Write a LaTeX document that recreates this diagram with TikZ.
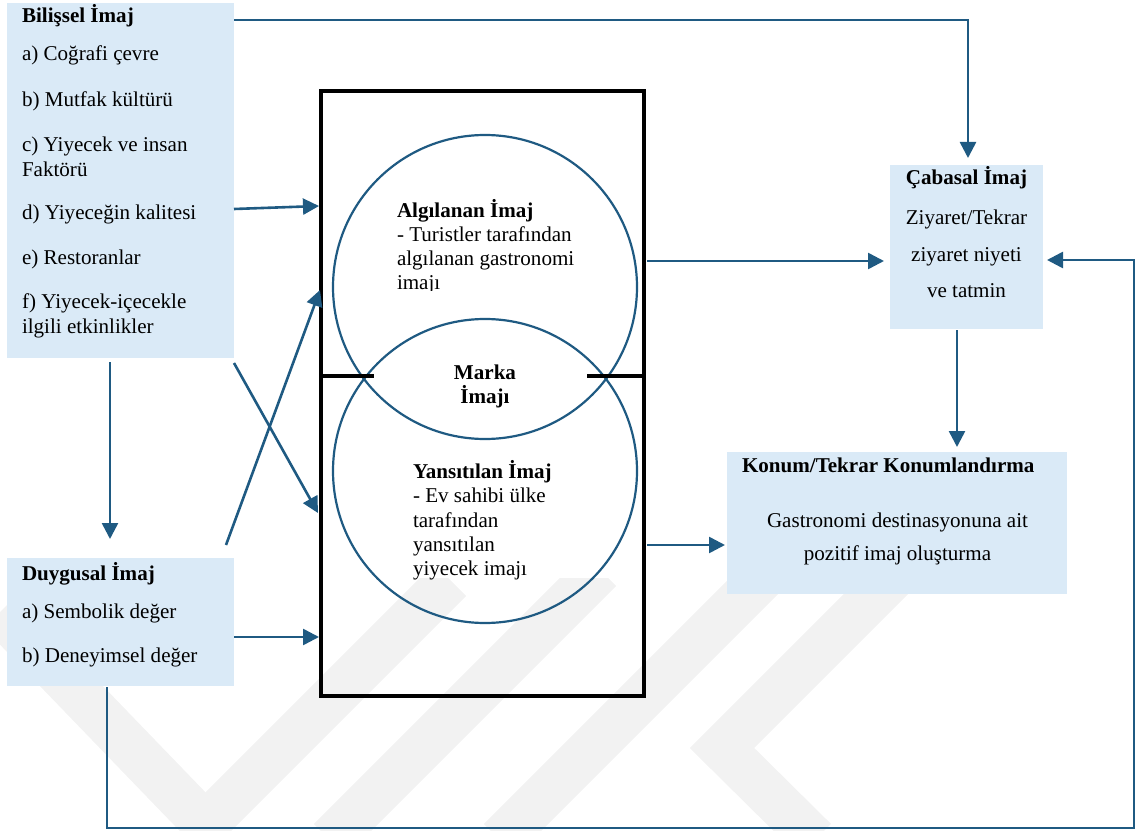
\documentclass[tikz,border=0pt]{standalone}
\usepackage{fontspec}
\setmainfont{Liberation Serif}
\usetikzlibrary{arrows.meta}
\definecolor{boxfill}{HTML}{DAEAF7}
\definecolor{flow}{HTML}{1F5A82}
\definecolor{wmark}{HTML}{F2F2F2}

\begin{document}
\begin{tikzpicture}[x=0.75pt,y=-0.75pt,
  every node/.style={font=\fontsize{15.8}{19}\selectfont, inner sep=0pt, outer sep=0pt},
  panel/.style={fill=boxfill, anchor=north west},
  txt/.style={anchor=base west},
  ctxt/.style={anchor=base},
  hd/.style={font=\fontsize{15.8}{19}\selectfont\bfseries},
  link/.style={draw=flow, line width=1.95pt, -{Triangle[length=12pt,width=12pt]}},
  ring/.style={draw=flow, line width=1.65pt, circle, minimum size=228pt},
  band/.style={draw=wmark, line width=34pt}]
\useasboundingbox (0,0) rectangle (1136,831);

% faint background emblem
\begin{scope}
  \clip (0,578) rectangle (1136,831);
  \draw[band] (0,612) -- (220,840);
  \draw[band] (190,840) -- (450,580);
  \draw[band] (330,840) -- (600,570);
  \draw[band] (500,840) -- (770,570);
  \draw[band] (895,575) -- (722,748) -- (815,840);
\end{scope}

% coloured panels
\node[panel, minimum width=170.25pt, minimum height=266.25pt] (bil) at (7,3) {};
\node[panel, minimum width=170.25pt, minimum height=96pt] (duy) at (7,558) {};
\node[panel, minimum width=114.75pt, minimum height=123pt] (cab) at (890,165) {};
\node[panel, minimum width=255pt, minimum height=106.5pt] (kon) at (727,452) {};

% brand image frame with its two circles
\node[draw, line width=3pt, minimum width=242.25pt, minimum height=453.75pt] (frame) at (482.5,393.5) {};
\node[ring] (alg) at (485,287) {};
\node[ring] (yan) at (485,471) {};
\coordinate (ml1) at (321,376);
\coordinate (ml2) at (374,376);
\coordinate (mr1) at (587,376);
\coordinate (mr2) at (644,376);
\draw[line width=3pt] (ml1) -- (ml2);
\draw[line width=3pt] (mr1) -- (mr2);

% Bilişsel İmaj
\node[txt, hd] (t1) at (22,23) {Bilişsel İmaj};
\node[txt] (t2) at (22,61) {a) Coğrafi çevre};
\node[txt] (t3) at (22,107) {b) Mutfak kültürü};
\node[txt] (t4) at (22,152) {c) Yiyecek ve insan};
\node[txt] (t5) at (22,177) {Faktörü};
\node[txt] (t6) at (22,220) {d) Yiyeceğin kalitesi};
\node[txt] (t7) at (22,265) {e) Restoranlar};
\node[txt] (t8) at (22,308) {f) Yiyecek-içecekle};
\node[txt] (t9) at (22,333) {ilgili etkinlikler};

% Duygusal İmaj
\node[txt, hd] (u1) at (22,580) {Duygusal İmaj};
\node[txt] (u2) at (22,618) {a) Sembolik değer};
\node[txt] (u3) at (22,662) {b) Deneyimsel değer};

% Algılanan İmaj
\node[txt, hd] (g1) at (397,218) {Algılanan İmaj};
\node[txt] (g2) at (397,242) {- Turistler tarafından};
\node[txt] (g3) at (397,266) {algılanan gastronomi};
\begin{scope}
  \clip (390,268) rectangle (480,290);
  \node[txt] (g4) at (397,290) {imajı};
\end{scope}

% Marka İmajı
\node[ctxt, hd] (m1) at (485,379) {Marka};
\node[ctxt, hd] (m2) at (485,403) {İmajı};

% Yansıtılan İmaj
\node[txt, hd] (y1) at (413,478) {Yansıtılan İmaj};
\node[txt] (y2) at (413,502) {- Ev sahibi ülke};
\node[txt] (y3) at (413,527) {tarafından};
\node[txt] (y4) at (413,551) {yansıtılan};
\node[txt] (y5) at (413,575) {yiyecek imajı};

% Çabasal İmaj
\node[ctxt, hd] (c1) at (966.5,185) {Çabasal İmaj};
\node[ctxt] (c2) at (966.5,224) {Ziyaret/Tekrar};
\node[ctxt] (c3) at (966.5,262) {ziyaret niyeti};
\node[ctxt] (c4) at (966.5,297) {ve tatmin};

% Konum/Tekrar Konumlandırma
\node[txt, hd] (k1) at (742,472) {Konum/Tekrar Konumlandırma};
\node[ctxt] (k2) at (897.5,527) {Gastronomi destinasyonuna ait};
\node[ctxt] (k3) at (897.5,560) {pozitif imaj oluşturma};

% connector points
\coordinate (p1) at (234,20);
\coordinate (p1c) at (968,20);
\coordinate (p1e) at (968,158);
\coordinate (p2) at (234,209);
\coordinate (p2e) at (319,206);
\coordinate (p3) at (110,362);
\coordinate (p3e) at (110,539);
\coordinate (p4) at (234,363);
\coordinate (p4e) at (318,513);
\coordinate (p5) at (226,545);
\coordinate (p5e) at (320,290);
\coordinate (p6) at (234,637);
\coordinate (p6e) at (319,637);
\coordinate (p7) at (647,261);
\coordinate (p7e) at (884,261);
\coordinate (p8) at (957,330);
\coordinate (p8e) at (957,447);
\coordinate (p9) at (647,545);
\coordinate (p9e) at (725,545);
\coordinate (p10) at (107,687);
\coordinate (p10a) at (107,828);
\coordinate (p10b) at (1134,828);
\coordinate (p10c) at (1134,260);
\coordinate (p10e) at (1047,260);

% connectors
\draw[link] (p1) -- (p1c) -- (p1e);
\draw[link] (p2) -- (p2e);
\draw[link] (p3) -- (p3e);
\draw[link] (p4) -- (p4e);
\draw[link] (p5) -- (p5e);
\draw[link] (p6) -- (p6e);
\draw[link] (p7) -- (p7e);
\draw[link] (p8) -- (p8e);
\draw[link] (p9) -- (p9e);
\draw[link] (p10) -- (p10a) -- (p10b) -- (p10c) -- (p10e);
\end{tikzpicture}
\end{document}
